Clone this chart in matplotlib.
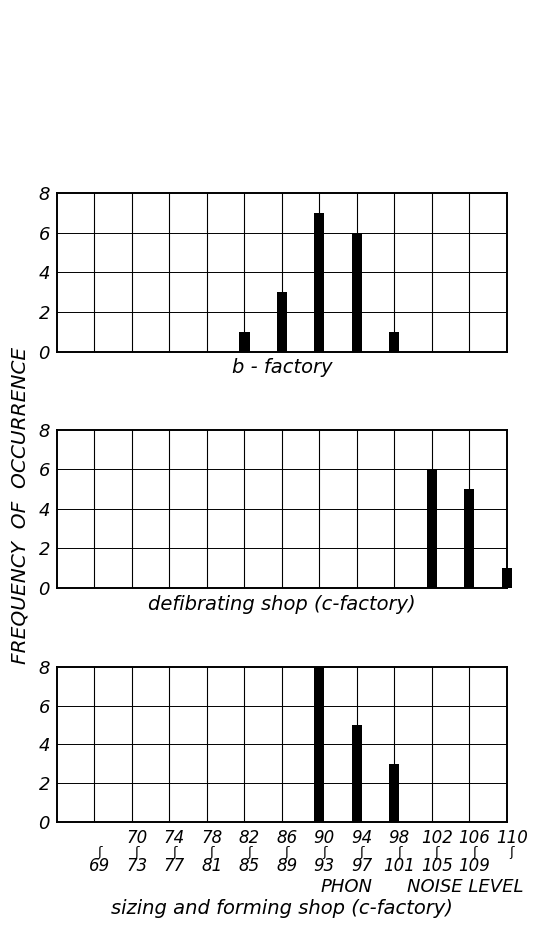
import matplotlib.pyplot as plt
import numpy as np

plt.rcParams['font.family'] = ['DejaVu Sans']

# noise level classes (phon), one per vertical grid line
lower = ["", "70", "74", "78", "82", "86", "90", "94", "98", "102", "106", "110"]
upper = ["69", "73", "77", "81", "85", "89", "93", "97", "101", "105", "109", ""]

b_factory = [0, 0, 0, 0, 1, 3, 7, 6, 1, 0, 0, 0]
defibrating = [0, 0, 0, 0, 0, 0, 0, 0, 0, 6, 5, 1]
sizing = [0, 0, 0, 0, 0, 0, 8, 5, 3, 0, 0, 0]

paneles = [
    (b_factory, "b - factory", 0.6195, 0.172),
    (defibrating, "defibrating shop (c-factory)", 0.3643, 0.171),
    (sizing, "sizing and forming shop (c-factory)", 0.1114, 0.1676),
]

fig = plt.figure(figsize=(5.48, 9.25), dpi=100)
x = np.arange(1, 13)

axes = []
for datos, titulo, abajo, alto in paneles:
    ax = fig.add_axes([0.104, abajo, 0.821, alto])
    ax.set_xlim(0, 12)
    ax.set_ylim(0, 8)
    for xv in range(1, 12):
        ax.axvline(xv, color="black", lw=0.8, zorder=1)
    for yv in (2, 4, 6):
        ax.axhline(yv, color="black", lw=0.7, zorder=1)
    vals = np.array(datos)
    mask = vals > 0
    ax.bar(x[mask], vals[mask], width=0.27, color="black", zorder=3, clip_on=False)
    ax.set_xticks([])
    ax.set_yticks([0, 2, 4, 6, 8])
    ax.set_yticklabels(["0", "2", "4", "6", "8"], fontsize=13, style="italic")
    ax.tick_params(axis="y", length=0, pad=5)
    for s in ax.spines.values():
        s.set_linewidth(1.4)
    axes.append(ax)

# captions under each panel
fig.text(0.515, 1 - 368 / 925, "b - factory", ha="center", va="center",
         fontsize=14, style="italic")
fig.text(0.515, 1 - 605 / 925, "defibrating shop (c-factory)", ha="center",
         va="center", fontsize=14, style="italic")
fig.text(0.515, 1 - 909 / 925, "sizing and forming shop (c-factory)", ha="center",
         va="center", fontsize=14, style="italic")

# class labels under the bottom panel ("from ~ to")
ax = axes[-1]
trans = ax.get_xaxis_transform()
for xv, lo, hi in zip(x, lower, upper):
    xt = xv + 0.13
    if lo:
        ax.text(xt, -0.105, lo, ha="center", va="center", fontsize=12,
                style="italic", transform=trans, clip_on=False)
    ax.text(xt, -0.195, "ʃ", ha="center", va="center", fontsize=9.5,
            transform=trans, clip_on=False)
    if hi:
        ax.text(xt, -0.285, hi, ha="center", va="center", fontsize=12,
                style="italic", transform=trans, clip_on=False)

fig.text(347 / 548, 1 - 887 / 925, "PHON", ha="center", va="center",
         fontsize=13, style="italic")
fig.text(465 / 548, 1 - 887 / 925, "NOISE LEVEL", ha="center", va="center",
         fontsize=13, style="italic")

fig.text(20 / 548, 1 - 505 / 925, "FREQUENCY  OF  OCCURRENCE", ha="center",
         va="center", rotation=90, fontsize=14.5, style="italic")

fig.savefig("out.png", dpi=100)
